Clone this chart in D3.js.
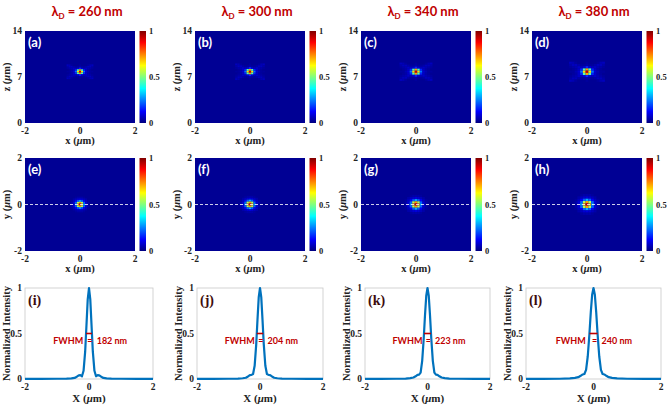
<!DOCTYPE html>
<html>
<head>
<meta charset="utf-8">
<script src="https://cdn.jsdelivr.net/npm/d3@7"></script>
<style>
  body { margin: 0; background: #fff; }
  svg { display: block; }
  .tick-label { font-family: "Liberation Serif", serif; font-weight: bold; font-size: 9.5px; fill: #222; }
  .axis-label { font-family: "Liberation Serif", serif; font-weight: bold; font-size: 10.5px; fill: #222; }
</style>
</head>
<body>
<div class="graph"></div>
<script>
// wavelengths in the column titles
const wavelengths = ["260", "300", "340", "380"];
const fwhmValues = ["182", "204", "223", "240"];
const fwhmMicrons = [0.182, 0.204, 0.223, 0.240];

const xzLetters = ["(a)", "(b)", "(c)", "(d)"];
const xyLetters = ["(e)", "(f)", "(g)", "(h)"];
const profileLetters = ["(i)", "(j)", "(k)", "(l)"];

// tick labels
const xTicks = [-2, 0, 2];
const zTicks = [0, 7, 14];
const yTicks = [-2, 0, 2];
const intensityTicks = [0, 0.5, 1];
const colorbarTicks = [0, 0.5, 1];

// focal spot, x-z plane (rows from top to bottom, centred on the spot)
const xzSpot = [
    [0.06, 0.05, 0.03, 0.02, 0.02, 0.02, 0.03, 0.02, 0.02, 0.02, 0.03, 0.05, 0.06],
    [0.04, 0.06, 0.06, 0.04, 0.03, 0.03, 0.04, 0.03, 0.03, 0.04, 0.06, 0.06, 0.04],
    [0.03, 0.04, 0.05, 0.07, 0.06, 0.08, 0.16, 0.08, 0.06, 0.07, 0.05, 0.04, 0.03],
    [0.02, 0.03, 0.04, 0.07, 0.16, 0.45, 0.72, 0.45, 0.16, 0.07, 0.04, 0.03, 0.02],
    [0.03, 0.03, 0.05, 0.08, 0.24, 0.65, 0.93, 0.65, 0.24, 0.08, 0.05, 0.03, 0.03],
    [0.02, 0.03, 0.04, 0.07, 0.16, 0.45, 0.72, 0.45, 0.16, 0.07, 0.04, 0.03, 0.02],
    [0.03, 0.04, 0.05, 0.07, 0.06, 0.08, 0.16, 0.08, 0.06, 0.07, 0.05, 0.04, 0.03],
    [0.04, 0.06, 0.06, 0.04, 0.03, 0.03, 0.04, 0.03, 0.03, 0.04, 0.06, 0.06, 0.04],
    [0.06, 0.05, 0.03, 0.02, 0.02, 0.02, 0.03, 0.02, 0.02, 0.02, 0.03, 0.05, 0.06]
];

// focal spot, x-y plane
const xySpot = [
    [0.02, 0.02, 0.03, 0.04, 0.04, 0.04, 0.03, 0.02, 0.02],
    [0.02, 0.04, 0.06, 0.08, 0.09, 0.08, 0.06, 0.04, 0.02],
    [0.03, 0.06, 0.12, 0.22, 0.30, 0.22, 0.12, 0.06, 0.03],
    [0.04, 0.08, 0.22, 0.55, 0.72, 0.55, 0.22, 0.08, 0.04],
    [0.04, 0.09, 0.30, 0.72, 0.93, 0.72, 0.30, 0.09, 0.04],
    [0.04, 0.08, 0.22, 0.55, 0.72, 0.55, 0.22, 0.08, 0.04],
    [0.03, 0.06, 0.12, 0.22, 0.30, 0.22, 0.12, 0.06, 0.03],
    [0.02, 0.04, 0.06, 0.08, 0.09, 0.08, 0.06, 0.04, 0.02],
    [0.02, 0.02, 0.03, 0.04, 0.04, 0.04, 0.03, 0.02, 0.02]
];

// grid spacing of the spot maps (um), per wavelength
const cellX = [0.075, 0.083, 0.092, 0.100];
const cellZ = [0.25, 0.28, 0.31, 0.34];
const spotZ = 7.8;
const backgroundValue = 0.02;

// intensity profiles along x
const profileX = [-2, -1.5, -1, -0.7, -0.55, -0.45, -0.38, -0.32, -0.27, -0.22, -0.17, -0.12, -0.08, -0.04, 0,
    0.04, 0.08, 0.12, 0.17, 0.22, 0.27, 0.32, 0.38, 0.45, 0.55, 0.7, 1, 1.5, 2];
const profileI = [
    [0.002, 0.002, 0.003, 0.004, 0.006, 0.012, 0.025, 0.040, 0.042, 0.030, 0.090, 0.300, 0.585, 0.875, 1,
     0.875, 0.585, 0.300, 0.090, 0.030, 0.042, 0.040, 0.025, 0.012, 0.006, 0.004, 0.003, 0.002, 0.002],
    [0.002, 0.002, 0.003, 0.005, 0.008, 0.014, 0.028, 0.043, 0.045, 0.055, 0.145, 0.380, 0.650, 0.900, 1,
     0.900, 0.650, 0.380, 0.145, 0.055, 0.045, 0.043, 0.028, 0.014, 0.008, 0.005, 0.003, 0.002, 0.002],
    [0.002, 0.002, 0.003, 0.005, 0.009, 0.016, 0.030, 0.045, 0.048, 0.070, 0.200, 0.450, 0.700, 0.915, 1,
     0.915, 0.700, 0.450, 0.200, 0.070, 0.048, 0.045, 0.030, 0.016, 0.009, 0.005, 0.003, 0.002, 0.002],
    [0.002, 0.002, 0.003, 0.006, 0.012, 0.020, 0.035, 0.050, 0.055, 0.100, 0.250, 0.500, 0.735, 0.926, 1,
     0.926, 0.735, 0.500, 0.250, 0.100, 0.055, 0.050, 0.035, 0.020, 0.012, 0.006, 0.003, 0.002, 0.002]
];

// layout
const width = 670, height = 408;
const heatLeft = [25, 195, 361, 532];
const heatW = 110;
const rowXZ = { top: 31, bottom: 123 };
const rowXY = { top: 158, bottom: 251 };
const profLeft = [25, 197, 365, 526];
const profRight = [153, 323, 490, 661];
const prof = { top: 288, bottom: 379 };
const red = "#c00000";

// jet colormap
const jet = d3.scaleLinear()
    .domain([0, 0.125, 0.375, 0.625, 0.875, 1])
    .range(["#000080", "#0000ff", "#00ffff", "#ffff00", "#ff0000", "#800000"])
    .clamp(true);

const svg = d3.select(".graph").append("svg")
    .attr("width", width)
    .attr("height", height);

svg.append("rect").attr("width", width).attr("height", height).attr("fill", "#fff");

// colorbar gradient
const grad = svg.append("defs").append("linearGradient")
    .attr("id", "jetgrad")
    .attr("x1", 0).attr("y1", 1).attr("x2", 0).attr("y2", 0);
grad.selectAll("stop")
    .data(jet.domain())
    .join("stop")
        .attr("offset", d => d)
        .attr("stop-color", d => jet(d));

function muLabel(g, prefix, x, y, rotate, size) {
    const t = g.append("text")
        .attr("class", "axis-label")
        .attr("text-anchor", "middle")
        .attr("transform", `translate(${x},${y})` + (rotate ? " rotate(-90)" : ""))
        .style("font-size", size + "px");
    t.append("tspan").text(prefix + " (");
    t.append("tspan").style("font-style", "italic").text("\u03bc");
    t.append("tspan").text("m)");
}

function drawHeat(i, row, spot, yDomain, yTickVals, yName, letter, cz, cy) {
    const L = heatLeft[i];
    const xScale = d3.scaleLinear().domain([-2, 2]).range([L, L + heatW]);
    const yScale = d3.scaleLinear().domain(yDomain).range([row.bottom, row.top]);
    const g = svg.append("g");

    g.append("rect")
        .attr("x", xScale(-2)).attr("y", yScale(yDomain[1]))
        .attr("width", xScale(2) - xScale(-2))
        .attr("height", yScale(yDomain[0]) - yScale(yDomain[1]))
        .attr("fill", jet(backgroundValue));

    const nr = spot.length, nc = spot[0].length;
    const cells = [];
    spot.forEach((r, ri) => r.forEach((v, ci) => {
        cells.push({
            x: (ci - (nc - 1) / 2) * cellX[i],
            y: cy + ((nr - 1) / 2 - ri) * cz,
            v: v
        });
    }));
    g.selectAll(".cell")
        .data(cells)
        .join("rect")
            .attr("class", "cell")
            .attr("x", d => xScale(d.x - cellX[i] / 2))
            .attr("y", d => yScale(d.y + cz / 2))
            .attr("width", d => xScale(d.x + cellX[i] / 2) - xScale(d.x - cellX[i] / 2))
            .attr("height", d => yScale(d.y - cz / 2) - yScale(d.y + cz / 2))
            .attr("fill", d => jet(d.v));

    // tick labels
    g.selectAll(".xt")
        .data(xTicks)
        .join("text")
            .attr("class", "tick-label")
            .attr("x", d => xScale(d))
            .attr("y", row.bottom + 11)
            .attr("text-anchor", "middle")
            .text(d => d);
    g.selectAll(".yt")
        .data(yTickVals)
        .join("text")
            .attr("class", "tick-label")
            .attr("x", L - 3)
            .attr("y", d => yScale(d) + 3.3)
            .attr("text-anchor", "end")
            .text(d => d);

    muLabel(g, "x", (xScale(-2) + xScale(2)) / 2, row.bottom + 21, false, 10.5);
    muLabel(g, yName, L - 15, (row.top + row.bottom) / 2, true, 10.5);

    g.append("text")
        .attr("x", L + 3)
        .attr("y", row.top + 16)
        .style("font-family", "Lato, sans-serif")
        .style("font-weight", "bold")
        .style("font-size", "13px")
        .attr("fill", "#fff")
        .text(letter);

    // colorbar
    const cbX = L + heatW + 4.5;
    g.append("rect")
        .attr("x", cbX).attr("y", row.top)
        .attr("width", 6.5).attr("height", row.bottom - row.top)
        .attr("fill", "url(#jetgrad)");
    const cbScale = d3.scaleLinear().domain([0, 1]).range([row.bottom, row.top]);
    g.selectAll(".ct")
        .data(colorbarTicks)
        .join("text")
            .attr("class", "tick-label")
            .style("font-size", "8.5px")
            .attr("x", cbX + 9.5)
            .attr("y", d => cbScale(d) + 3)
            .text(d => d);

    return { g, xScale, yScale };
}

wavelengths.forEach((wl, i) => {
    const L = heatLeft[i];

    // column title
    const title = svg.append("text")
        .attr("x", L + 62)
        .attr("y", 16)
        .attr("text-anchor", "middle")
        .style("font-family", "Lato, sans-serif")
        .style("font-weight", "bold")
        .style("font-size", "13px")
        .attr("fill", red);
    title.append("tspan").text("\u03bb");
    title.append("tspan").attr("dy", 3).style("font-size", "8px").text("D");
    title.append("tspan").attr("dy", -3).text(` = ${wl} nm`);

    drawHeat(i, rowXZ, xzSpot, [0, 14], zTicks, "z", xzLetters[i], cellZ[i], spotZ);
    const xy = drawHeat(i, rowXY, xySpot, [-2, 2], yTicks, "y", xyLetters[i], cellX[i], 0);

    // dashed line through the spot
    xy.g.append("line")
        .attr("x1", xy.xScale(-2)).attr("x2", xy.xScale(2))
        .attr("y1", xy.yScale(0)).attr("y2", xy.yScale(0))
        .attr("stroke", "#fff")
        .attr("stroke-width", 0.9)
        .attr("stroke-dasharray", "3,2")
        .attr("opacity", 0.9);

    // profile
    const px = d3.scaleLinear().domain([-2, 2]).range([profLeft[i], profRight[i]]);
    const py = d3.scaleLinear().domain([0, 1]).range([prof.bottom, prof.top]);
    const g = svg.append("g");

    g.append("rect")
        .attr("x", px(-2)).attr("y", py(1))
        .attr("width", px(2) - px(-2)).attr("height", py(0) - py(1))
        .attr("fill", "none")
        .attr("stroke", "#c8c8c8")
        .attr("stroke-width", 0.8);

    g.selectAll(".xt")
        .data(xTicks)
        .join("text")
            .attr("class", "tick-label")
            .attr("x", d => px(d))
            .attr("y", prof.bottom + 11)
            .attr("text-anchor", "middle")
            .text(d => d);
    g.selectAll(".yt")
        .data(intensityTicks)
        .join("text")
            .attr("class", "tick-label")
            .attr("x", profLeft[i] - 3)
            .attr("y", d => py(d) + 3.3)
            .attr("text-anchor", "end")
            .text(d => d);

    muLabel(g, "X", (px(-2) + px(2)) / 2, prof.bottom + 23, false, 11);
    g.append("text")
        .attr("class", "axis-label")
        .attr("text-anchor", "middle")
        .attr("transform", `translate(${profLeft[i] - 15},${(prof.top + prof.bottom) / 2}) rotate(-90)`)
        .text("Normalized Intensity");

    const line = d3.line()
        .x((d, k) => px(profileX[k]))
        .y(d => py(d));
    g.append("path")
        .attr("d", line(profileI[i]))
        .attr("fill", "none")
        .attr("stroke", "#0072bd")
        .attr("stroke-width", 2.2)
        .attr("stroke-linejoin", "round");

    g.append("text")
        .attr("x", profLeft[i] + 3)
        .attr("y", prof.top + 17)
        .style("font-family", "Liberation Serif, serif")
        .style("font-weight", "bold")
        .style("font-size", "14px")
        .attr("fill", "#3d0c0c")
        .text(profileLetters[i]);

    // FWHM marker
    const half = fwhmMicrons[i] / 2;
    g.append("line")
        .attr("x1", px(-half)).attr("x2", px(half))
        .attr("y1", py(0.5)).attr("y2", py(0.5))
        .attr("stroke", red)
        .attr("stroke-width", 1.6);
    const ann = g.append("g")
        .style("font-family", "Lato, sans-serif")
        .style("font-weight", "bold")
        .style("font-size", "9px")
        .attr("fill", red);
    ann.append("text")
        .attr("x", px(-1.12)).attr("y", py(0.38))
        .text("FWHM");
    ann.append("text")
        .attr("x", px(0.03)).attr("y", py(0.38))
        .attr("text-anchor", "middle")
        .text("=");
    ann.append("text")
        .attr("x", px(0.24)).attr("y", py(0.38))
        .text(`${fwhmValues[i]} nm`);
});
</script>
</body>
</html>
